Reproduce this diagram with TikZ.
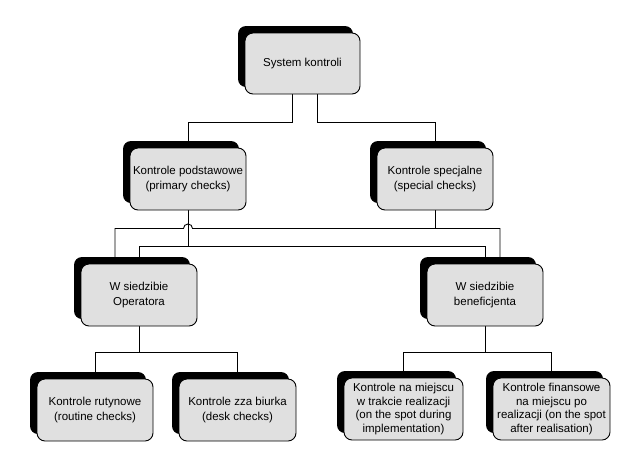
\documentclass[tikz,border=0pt]{standalone}
\usepackage{fontspec}
\setmainfont{Liberation Sans}
\usetikzlibrary{shadows,calc}
\pgfdeclarelayer{bg}
\pgfsetlayers{bg,main}
\definecolor{boxgray}{RGB}{224,224,224}
\begin{document}
\begin{tikzpicture}[x=1pt,y=-1pt,
  box/.style={draw=black, line width=0.9pt, fill=boxgray, rounded corners=8pt,
    minimum height=62pt, inner sep=2pt, align=center,
    font=\fontsize{11.5}{14.5}\selectfont,
    general shadow={fill=black, shadow xshift=-7pt, shadow yshift=7pt}},
  conn/.style={draw=black, line width=0.9pt}]
\useasboundingbox (0,0) rectangle (631,472);
\node[box, minimum width=115pt, minimum height=61pt] (sys) at (302.5,63.5) {System kontroli};
\node[box, minimum width=116pt] (kp) at (188,179) {Kontrole podstawowe\\(primary checks)};
\node[box, minimum width=116pt] (ks) at (435,179) {Kontrole specjalne\\(special checks)};
\node[box, minimum width=116pt] (wo) at (139,295) {W siedzibie\\Operatora};
\node[box, minimum width=116pt] (wb) at (485,295) {W siedzibie\\beneficjenta};
\node[box, minimum width=116pt] (kr) at (95,410) {Kontrole rutynowe\\(routine checks)};
\node[box, minimum width=117pt] (kz) at (237.5,410) {Kontrole zza biurka\\(desk checks)};
\node[box, minimum width=119pt, font=\fontsize{11.5}{13.4}\selectfont] (km) at (403.5,409) {Kontrole na miejscu\\w trakcie realizacji\\(on the spot during\\implementation)};
\node[box, minimum width=117pt, font=\fontsize{11.5}{13.4}\selectfont] (kf) at (551.5,409) {Kontrole finansowe\\na miejscu po\\realizacji (on the spot\\after realisation)};
\begin{pgfonlayer}{bg}
\draw[conn] ([xshift=-10.5pt]sys.south) -- ++(0,28) -| (kp.north);
\draw[conn] ([xshift=14.5pt]sys.south) -- ++(0,28) -| (ks.north);
\draw[conn] (kp.south) -- ++(0,35.5) -| (wo.north);
\draw[conn] (kp.south) ++(0,35.5) -| (wb.north);
\coordinate (ksj) at ($(ks.south)+(0,18)$);
\coordinate (hop) at (ksj -| kp.south);
\coordinate (woin) at ([xshift=-24pt]wo.north);
\coordinate (wbin) at ([xshift=15pt]wb.north);
\draw[conn] (ks.south) -- (ksj);
\draw[conn] (wbin) |- (ksj) -- ($(hop)+(4.5,0)$)
  arc[start angle=0, end angle=180, radius=4.5pt]
  -- (ksj -| woin) -- (woin);
\draw[conn] (wo.south) -- ++(0,26) -| (kr.north);
\draw[conn] (wo.south) ++(0,26) -| (kz.north);
\draw[conn] (wb.south) -- ++(0,26) -| (km.north);
\draw[conn] (wb.south) ++(0,26) -| (kf.north);
\end{pgfonlayer}
\end{tikzpicture}
\end{document}
